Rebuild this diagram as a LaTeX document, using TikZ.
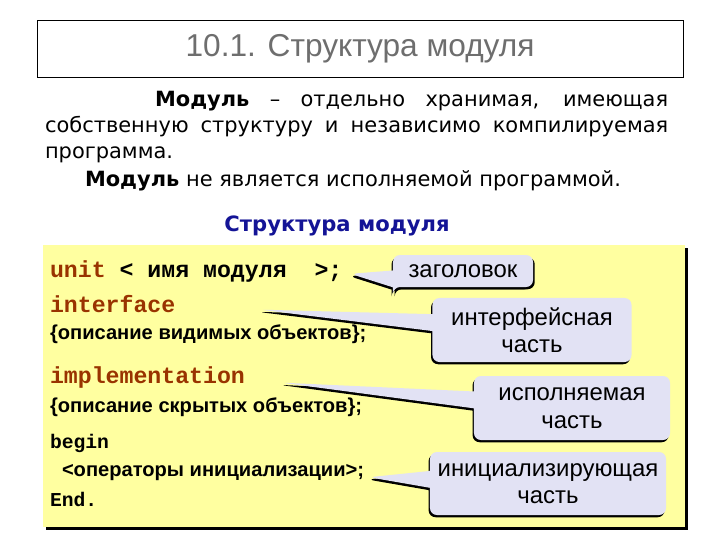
\documentclass[tikz,border=0pt]{standalone}
\usepackage{fontspec}
\setmainfont{Liberation Sans}
\setmonofont{Liberation Mono}
\newfontfamily\bodyfont{DejaVu Sans}
\usetikzlibrary{positioning, shapes.callouts, shadows}
\definecolor{codebg}{RGB}{255,255,160}
\definecolor{notebg}{RGB}{226,226,244}
\definecolor{kwred}{RGB}{153,51,0}
\definecolor{headblue}{RGB}{20,20,150}
\definecolor{titlegray}{RGB}{110,110,110}

\begin{document}
\begin{tikzpicture}[
  x=0.025cm, y=-0.025cm,
  every node/.style={inner sep=0pt, outer sep=0pt},
  txt/.style    = {font=\bodyfont\fontsize{14.9}{18.5}\selectfont},
  kw/.style     = {anchor=west, font=\fontsize{16.5}{18}\selectfont\ttfamily\bfseries},
  kwsmall/.style= {anchor=west, font=\fontsize{14}{16}\selectfont\ttfamily\bfseries},
  desc/.style   = {anchor=west, font=\fontsize{14.3}{16}\selectfont\bfseries},
  note/.style   = {rectangle callout, rounded corners=5pt, fill=notebg, align=center,
                   font=\fontsize{17}{19.5}\selectfont, callout pointer width=12pt,
                   drop shadow={fill=black, opacity=1, shadow xshift=-1pt, shadow yshift=-1.6pt}},
]
  \useasboundingbox (0,0) rectangle (720,540);

  % title frame
  \draw[thin] (37,20) rectangle (683,77);
  \node[font=\fontsize{22.5}{26}\selectfont, text=titlegray] (title) at (360,49) {10.1. Структура модуля};

  % definition text
  \node[txt, anchor=north west, text width=15.575cm, align=justify] (def) at (45,91)
    {\hspace*{2.75cm}\textbf{Модуль} – отдельно хранимая, имеющая\linebreak
     собственную структуру и независимо компилируемая\linebreak
     программа.};
  \node[txt, anchor=west] (notexec) at (85,181) {\textbf{Модуль} не является исполняемой программой.};
  \node[font=\bodyfont\fontsize{15}{18}\selectfont\bfseries, text=headblue] (sub) at (337,226) {Структура модуля};

  % code panel
  \fill[black] (46,248) rectangle (688,530);
  \fill[codebg] (43,245) rectangle (685,527);

  \node[kw]      (unit)  at (50,271) {\textcolor{kwred}{unit} < имя модуля~~>;};
  \node[kw, text=kwred] (iface) at (50,304) {interface};
  \node[desc]    (vis)   at (50,334) {\{описание видимых объектов\};};
  \node[kw, text=kwred] (impl)  at (50,377) {implementation};
  \node[desc]    (hid)   at (50,407) {\{описание скрытых объектов\};};
  \node[kwsmall] (beg)   at (50,443) {begin};
  \node[desc]    (ops)   at (62,473) {<операторы инициализации>;};
  \node[kwsmall] (fin)   at (50,499) {End.};

  % pointer tips
  \coordinate[right=0.2cm of unit, yshift=-2pt] (uTip);
  \coordinate[right=2.1cm of iface, yshift=-4pt] (iTip);
  \coordinate[right=0.9cm of impl, yshift=-4pt]  (mTip);
  \coordinate[right=0.12cm of ops, yshift=-3pt]  (oTip);

  % callouts
  \node[note, minimum width=3.5cm, minimum height=0.8cm, callout absolute pointer=(uTip),
        drop shadow={fill=black, opacity=1, shadow xshift=1.2pt, shadow yshift=-1.6pt}]
        (head) at (463,271) {заголовок};
  \node[note, minimum width=4.975cm, minimum height=1.6cm, callout absolute pointer=(iTip)]
        (ipart) at (532,330) {интерфейсная\\часть};
  \node[note, minimum width=4.9cm, minimum height=1.6cm, callout absolute pointer=(mTip)]
        (epart) at (572,408) {исполняемая\\часть};
  \node[note, minimum width=5.9cm, minimum height=1.575cm, callout absolute pointer=(oTip)]
        (npart) at (548,483.5) {инициализирующая\\часть};
\end{tikzpicture}
\end{document}
